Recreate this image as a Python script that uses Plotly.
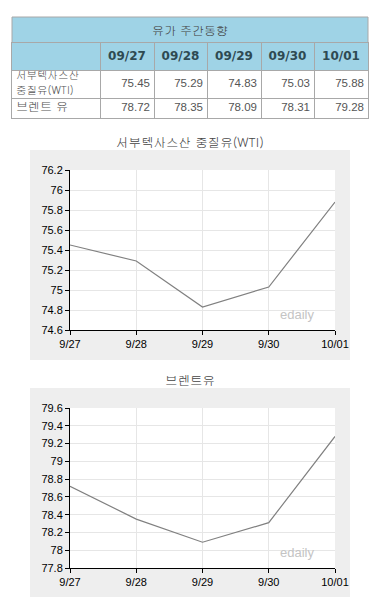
import plotly.graph_objects as go

W, H = 380, 616

# ---- data ----
dates_table = ["09/27", "09/28", "09/29", "09/30", "10/01"]
dates_axis = ["9/27", "9/28", "9/29", "9/30", "10/01"]
wti = [75.45, 75.29, 74.83, 75.03, 75.88]
brent = [78.72, 78.35, 78.09, 78.31, 79.28]
row_labels = ["서부텍사스산<br>중질유(WTI)", "브렌트 유"]
table_title = "유가 주간동향"
chart_titles = ["서부텍사스산 중질유(WTI)", "브렌트유"]

# ---- layout constants (pixels) ----
COL_W = [88, 54, 53, 54, 53, 54]
ROW_H = [27, 28, 20]          # header, WTI, Brent
TBL_X0, TBL_Y0 = 12, 43       # table body top-left (below title row)
TITLE_Y0 = 17
LINE_GAP = 15.4               # line spacing of wrapped row labels

KFONT = "Gulim, Dotum, Noto Sans CJK KR, sans-serif"
NFONT = "Liberation Sans, Arial, sans-serif"
BORDER = "#a8a8a8"
HEAD = "#9fd3e6"


def px(x):
    return x / W


def py(y):
    return 1 - y / H


col_edges = [0]
for w in COL_W:
    col_edges.append(col_edges[-1] + w)
row_edges = [0]
for h in ROW_H:
    row_edges.append(row_edges[-1] + h)
tbl_w, tbl_h = col_edges[-1], row_edges[-1]
col_centers = [(a + b) / 2 for a, b in zip(col_edges[:-1], col_edges[1:])]
row_centers = [(a + b) / 2 for a, b in zip(row_edges[:-1], row_edges[1:])]

fig = go.Figure()

# ---- charts ----
for i, vals in enumerate([wti, brent]):
    ax = "" if i == 0 else "2"
    fig.add_trace(go.Scatter(x=dates_axis, y=vals, mode="lines",
                             line=dict(color="#808080", width=1.2),
                             xaxis=f"x{ax}", yaxis=f"y{ax}", hoverinfo="x+y"))

# ---- table texts ----
fig.add_trace(go.Scatter(x=col_centers[1:], y=[row_centers[0]] * len(dates_table),
                         text=dates_table, mode="text", textposition="middle center",
                         textfont=dict(family="DejaVu Sans, sans-serif", size=12, color="#2e4a52", weight="bold"),
                         xaxis="x3", yaxis="y3", hoverinfo="skip", cliponaxis=False))
num_x, num_y, num_t = [], [], []
for r, series in enumerate([wti, brent]):
    for c, v in enumerate(series):
        num_x.append(col_edges[c + 2] - 4)
        num_y.append(row_centers[r + 1])
        num_t.append(f"{v:.2f}")
fig.add_trace(go.Scatter(x=num_x, y=num_y, text=num_t, mode="text", textposition="middle left",
                         textfont=dict(family=NFONT, size=11.5, color="#555555"),
                         xaxis="x3", yaxis="y3", hoverinfo="skip", cliponaxis=False))
lab_x, lab_y, lab_t, lab_s = [], [], [], []
for r, label in enumerate(row_labels):
    lines = label.split("<br>")
    n = len(lines)
    for k, line in enumerate(lines):
        lab_x.append(4)
        lab_y.append(row_centers[r + 1] + (k - (n - 1) / 2) * LINE_GAP)
        lab_t.append(line)
        lab_s.append(10.5 if n > 1 else 12)
fig.add_trace(go.Scatter(x=lab_x, y=lab_y, text=lab_t, mode="text", textposition="middle right",
                         textfont=dict(family=KFONT, size=lab_s, color="#555555"),
                         xaxis="x3", yaxis="y3", hoverinfo="skip", cliponaxis=False))

shapes = [
    dict(type="rect", xref="paper", yref="paper", x0=px(30), x1=px(350), y0=py(360), y1=py(150),
         fillcolor="#eeeeee", line=dict(width=0), layer="below"),
    dict(type="rect", xref="paper", yref="paper", x0=px(30), x1=px(350), y0=py(597), y1=py(388),
         fillcolor="#eeeeee", line=dict(width=0), layer="below"),
    dict(type="rect", xref="x domain", yref="y domain", x0=0, x1=1, y0=0, y1=1,
         fillcolor="white", line=dict(width=0), layer="below"),
    dict(type="rect", xref="x2 domain", yref="y2 domain", x0=0, x1=1, y0=0, y1=1,
         fillcolor="white", line=dict(width=0), layer="below"),
    dict(type="rect", xref="paper", yref="paper", x0=px(TBL_X0), x1=px(TBL_X0 + tbl_w),
         y0=py(TBL_Y0), y1=py(TITLE_Y0), fillcolor=HEAD, line=dict(color=BORDER, width=1), layer="below"),
    dict(type="rect", xref="x3", yref="y3", x0=0, x1=tbl_w, y0=row_edges[0], y1=row_edges[1],
         fillcolor=HEAD, line=dict(width=0), layer="below"),
]

annotations = [
    dict(text=table_title, xref="paper", yref="paper", x=px(TBL_X0 + tbl_w / 2),
         y=py((TITLE_Y0 + TBL_Y0) / 2), showarrow=False,
         font=dict(family=KFONT, size=12, color="#444444"), xanchor="center", yanchor="middle"),
    dict(text=chart_titles[0], xref="paper", yref="paper", x=px(190), y=py(142), showarrow=False,
         font=dict(family=KFONT, size=12.5, color="#444444"), xanchor="center", yanchor="middle"),
    dict(text=chart_titles[1], xref="paper", yref="paper", x=px(190), y=py(380), showarrow=False,
         font=dict(family=KFONT, size=12.5, color="#444444"), xanchor="center", yanchor="middle"),
]
for ax in ["", "2"]:
    annotations.append(dict(text="edaily", xref=f"x{ax} domain", yref=f"y{ax} domain",
                            x=0.93, y=0.04, xanchor="right", yanchor="bottom", showarrow=False,
                            font=dict(family=NFONT, size=13, color="#c4c4c4")))

xcommon = dict(type="category", range=[0, 4], showline=True, linecolor="black", linewidth=1,
               ticks="outside", ticklen=4, tickcolor="black", showgrid=True, gridcolor="#e6e6e6",
               tickfont=dict(family=NFONT, size=11, color="black"), zeroline=False,
               fixedrange=True, automargin=False)
ycommon = dict(showline=True, linecolor="black", linewidth=1, ticks="outside", ticklen=4,
               tickcolor="black", showgrid=True, gridcolor="#e6e6e6", dtick=0.2,
               tickfont=dict(family=NFONT, size=11, color="black"), zeroline=False,
               fixedrange=True, automargin=False)
tcommon = dict(showgrid=True, gridcolor=BORDER, gridwidth=1, showticklabels=False, ticks="",
               zeroline=False, showline=True, mirror=True, linecolor=BORDER, linewidth=1,
               fixedrange=True, automargin=False)

fig.update_layout(
    width=W, height=H, margin=dict(l=0, r=0, t=0, b=0, pad=0, autoexpand=False),
    paper_bgcolor="white", plot_bgcolor="white", showlegend=False,
    shapes=shapes, annotations=annotations,
    xaxis=dict(xcommon, domain=[px(70), px(335)], anchor="y"),
    yaxis=dict(ycommon, domain=[py(330), py(170)], range=[74.6, 76.2], anchor="x"),
    xaxis2=dict(xcommon, domain=[px(70), px(335)], anchor="y2"),
    yaxis2=dict(ycommon, domain=[py(568), py(408)], range=[77.8, 79.6], anchor="x2"),
    xaxis3=dict(tcommon, domain=[px(TBL_X0), px(TBL_X0 + tbl_w)], range=[0, tbl_w], anchor="y3",
                tickvals=col_edges[1:-1]),
    yaxis3=dict(tcommon, domain=[py(TBL_Y0 + tbl_h), py(TBL_Y0)], range=[tbl_h, 0], anchor="x3",
                tickvals=row_edges[1:-1]),
)

fig.write_html("out.html", config={"displayModeBar": False},
               post_script="document.body.style.margin='0';")
